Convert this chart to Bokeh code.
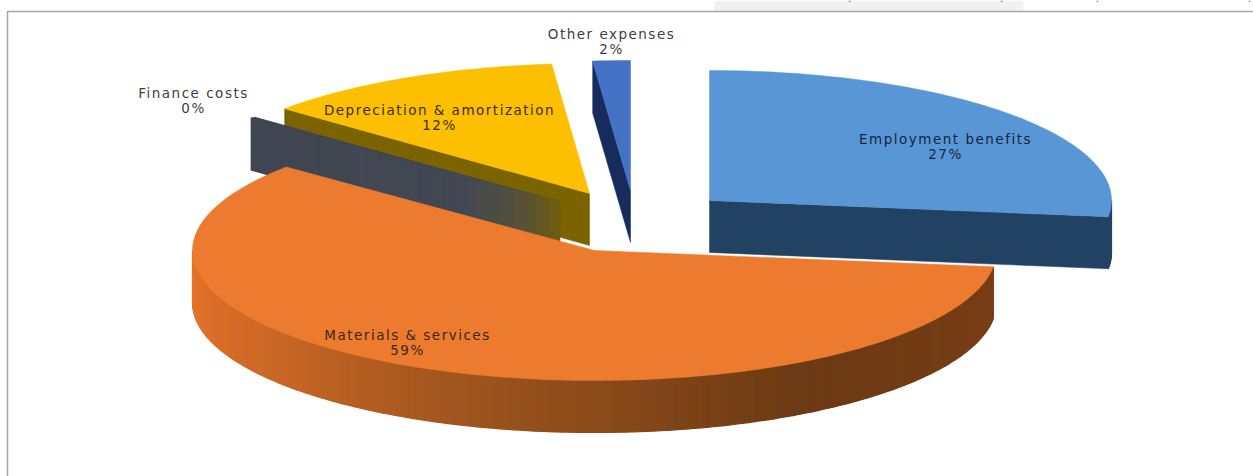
import numpy as np
from bokeh.core.properties import value
from bokeh.embed import file_html
from bokeh.models import InlineStyleSheet, Range1d
from bokeh.plotting import figure
from bokeh.resources import INLINE

# Expense breakdown, percent of total, clockwise from twelve o'clock
expense_names = ["Employment benefits", "Materials & services", "Finance costs",
                 "Depreciation & amortization", "Other expenses"]
expense_shares = [27.0, 59.1, 0.2, 12.2, 1.5]
top_colors = ["#5896D6", "#EC7B2F", "#3F4450", "#FDC000", "#4472C4"]
cut_colors = ["#224263", "#8A4A1C", "#3F4450", "#7B6300", "#172C5C"]

# Pie projection, in page pixels
RX, RY, DEPTH = 402, 130, 52
apex_x = [709, 594, 559, 589, 630]
apex_y = [200, 250, 201, 193, 190]
# Back-to-front painting order of the slices
paint_order = [4, 3, 2, 0, 1]

# Shade of the orange rim as it turns away from the light (angle, r, g, b)
rim_stops = [(97, 122, 62, 22), (150, 108, 58, 20), (200, 160, 86, 30),
             (235, 205, 105, 38), (270, 232, 116, 44)]
# Ramp along the dark cut face, from its outer end to the centre of the pie
finance_ramp = [(0.0, 64, 70, 82), (0.7, 66, 72, 84), (0.9, 88, 82, 56), (1.0, 110, 92, 20)]

label_x = [945, 407, 193, 439, 611]
label_y = [138, 334, 92, 109, 33]
label_colors = ["#16263C", "#3F2513", "#404040", "#3A2C00", "#404040"]
TRACKING = 1.5

# Chart frame and the strip of page above it
FRAME_LEFT, FRAME_TOP = 7, 11
strip_left, strip_right, strip_height = 714, 1023, 10
strip_marks = [849, 1001, 1097, 1249]

W, H = 1253, 476
p = figure(width=W, height=H, output_backend="svg", toolbar_location=None,
           x_range=Range1d(0, W), y_range=Range1d(H, 0), min_border=0,
           x_axis_type=None, y_axis_type=None, outline_line_color=None,
           background_fill_color="white", border_fill_color="white")
p.grid.visible = False
# Wide tracking on the data labels
p.stylesheets = [InlineStyleSheet(css=f":host {{ letter-spacing: {TRACKING}px; }}")]

p.quad(left=[strip_left], right=[strip_right], top=[0], bottom=[strip_height],
       fill_color="#F1F1F1", line_color=None)
p.segment(x0=strip_marks, x1=strip_marks, y0=[0] * 4, y1=[1.5] * 4,
          line_color="#808080", line_width=1.5)
p.line([FRAME_LEFT, FRAME_LEFT, W], [H, FRAME_TOP, FRAME_TOP],
       line_color="#A6A6A6", line_width=1.5)


def edge(cx, cy, deg):
    t = np.radians(deg)
    return cx + RX * np.sin(t), cy - RY * np.cos(t)


def ramp_color(stops, pos):
    stops = np.array(stops, dtype=float)
    rgb = [np.interp(pos, stops[:, 0], stops[:, k]) for k in (1, 2, 3)]
    return "#%02X%02X%02X" % tuple(int(c) for c in rgb)


shares = np.array(expense_shares)
bounds = np.concatenate([[0], np.cumsum(shares) / shares.sum() * 360])

for i in paint_order:
    cx, cy = apex_x[i], apex_y[i]
    a0, a1 = bounds[i], bounds[i + 1]

    # Cut faces that look towards the viewer
    for ang, show in ((a0, np.sin(np.radians(a0)) < -1e-6),
                      (a1, np.sin(np.radians(a1)) > 1e-6)):
        if not show:
            continue
        ex, ey = edge(cx, cy, ang)
        if i == 2:
            cuts = np.linspace(0, 1, 41)
            xs, ys, cols = [], [], []
            for c0, c1 in zip(cuts[:-1], cuts[1:]):
                x0, y0 = ex + (cx - ex) * c0, ey + (cy - ey) * c0
                x1, y1 = ex + (cx - ex) * c1, ey + (cy - ey) * c1
                xs.append([x0, x1, x1, x0])
                ys.append([y0, y1, y1 + DEPTH, y0 + DEPTH])
                cols.append(ramp_color(finance_ramp, c1))
            p.patches(xs, ys, fill_color=cols, line_color=None)
            p.patches(xs, ys, fill_color=cols, fill_alpha=0.6, line_color=cols, line_width=1.5)
        else:
            p.patch([cx, ex, ex, cx], [cy, ey, ey + DEPTH, cy + DEPTH],
                    fill_color=cut_colors[i], line_color=cut_colors[i], line_width=0.5)

    # Outer rim on the near half of the ellipse
    lo, hi = max(a0, 90), min(a1, 270)
    if hi > lo:
        steps = np.linspace(lo, hi, max(int(hi - lo), 1) + 1)
        xs, ys, cols = [], [], []
        for s0, s1 in zip(steps[:-1], steps[1:]):
            x0, y0 = edge(cx, cy, s0)
            x1, y1 = edge(cx, cy, s1)
            xs.append([x0, x1, x1, x0])
            ys.append([y0, y1, y1 + DEPTH, y0 + DEPTH])
            cols.append(ramp_color(rim_stops, (s0 + s1) / 2) if i == 1 else cut_colors[i])
        p.patches(xs, ys, fill_color=cols, line_color=cols, line_width=1.2)

    # Top surface; the finance sliver has no stroke of its own
    arc = np.linspace(a0, a1, max(int(a1 - a0), 2) + 1)
    ax, ay = edge(cx, cy, arc)
    p.patch(np.r_[cx, ax], np.r_[cy, ay], fill_color=top_colors[i],
            line_color=None if i == 2 else top_colors[i], line_width=0.5)

# Two-line data labels: category name over rounded percentage. Tracked text is
# laid out from its untracked width, so each line is nudged back to its centre.
LINE_STEP = 15.5
for i, name in enumerate(expense_names):
    pct = f"{expense_shares[i]:.0f}%"
    lines = [name, pct]
    xs = [label_x[i] - TRACKING * len(s) / 2 for s in lines]
    p.text(xs, [label_y[i], label_y[i] + LINE_STEP], text=lines,
           text_font=value("DejaVu Sans"), text_font_size="13.5px",
           text_color=label_colors[i], text_align="center", text_baseline="middle")

open("out.html", "w").write(file_html(p, INLINE))
